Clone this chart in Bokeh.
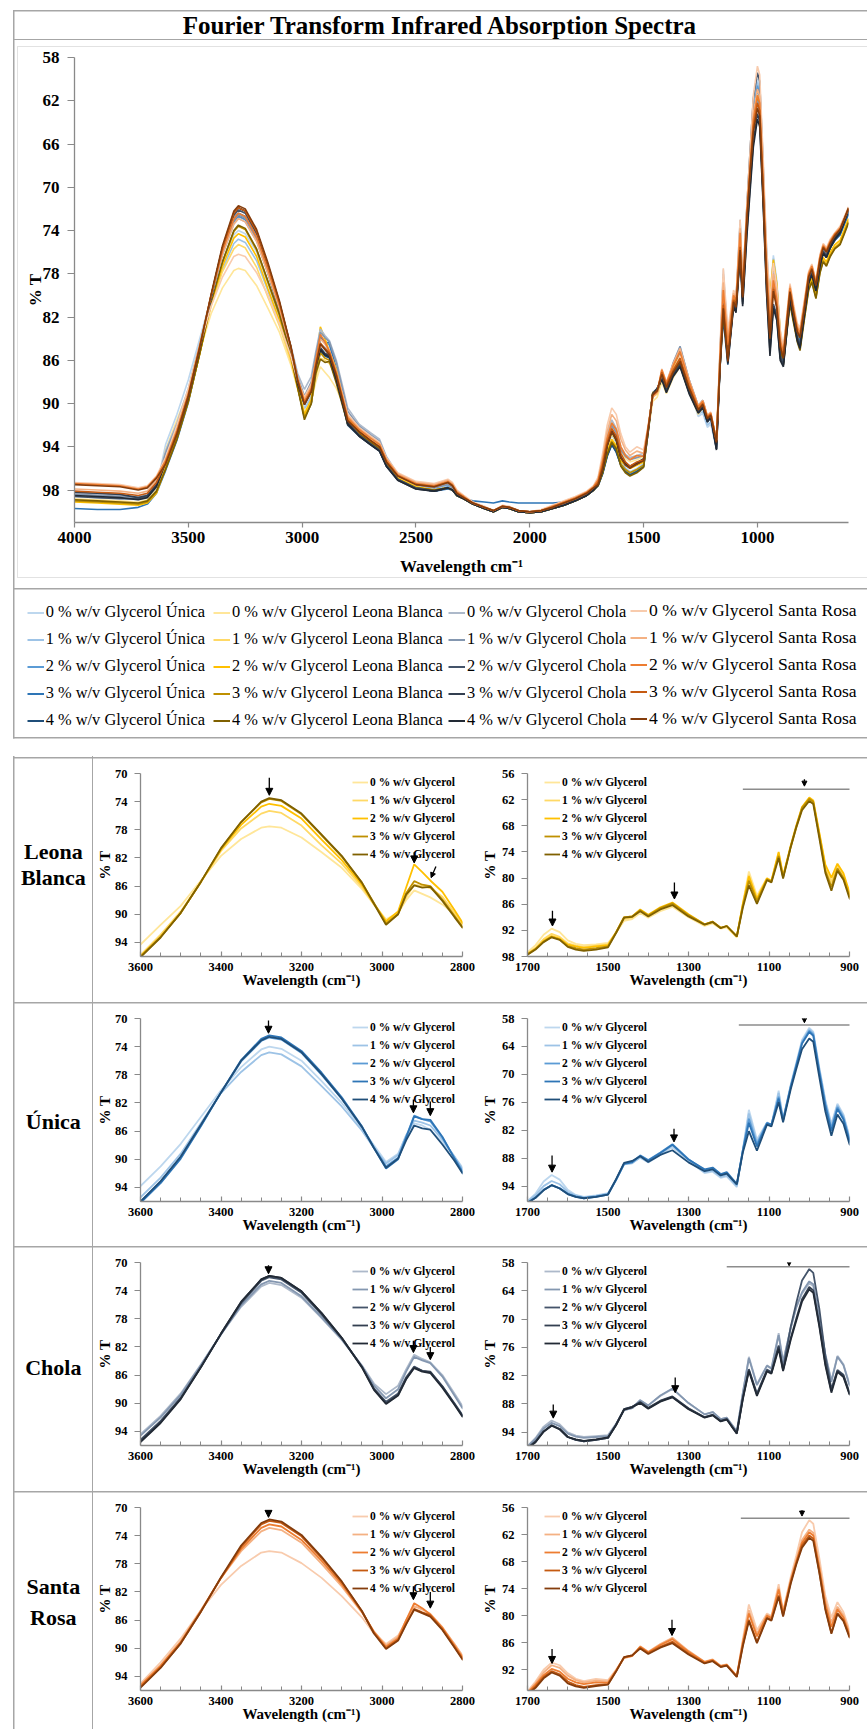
from bokeh.plotting import figure
from bokeh.models import (Range1d, FixedTicker, Legend, LegendItem, Label, Arrow, NormalHead)
from bokeh.layouts import column, row
from bokeh.embed import file_html
from bokeh.resources import INLINE

# ---------------------------------------------------------------- data
WN = [4000, 3900, 3800, 3720, 3680, 3640,
      3600, 3550, 3500, 3450, 3400, 3350, 3300, 3280, 3250, 3200, 3150, 3100, 3050, 3020,
      2990, 2960, 2940, 2920, 2900, 2880, 2850, 2820, 2800,
      2750, 2700, 2660, 2630, 2580, 2500, 2420, 2360, 2340, 2320, 2290, 2250, 2200, 2160,
      2120, 2090, 2050, 2000, 1950, 1900, 1850, 1800, 1750, 1720,
      1700, 1680, 1660, 1640, 1620, 1600, 1580, 1560, 1530, 1500,
      1480, 1460, 1440, 1420, 1400, 1370, 1340, 1300, 1260, 1240,
      1220, 1205, 1180, 1165, 1150, 1130, 1105, 1094, 1076, 1065,
      1046, 1032, 1018, 1000, 990, 975, 960, 945, 930, 915, 900,
      886, 870, 857, 840, 825, 813, 795, 775, 761, 743, 725, 711, 697, 680, 660, 637, 620, 600]

UNICA_0 = [98.6, 98.7, 98.8, 98.9, 98.7, 97.8,
           93.8, 91.0, 87.8, 84.0, 80.2, 76.9, 74.4, 74.0, 74.3, 76.0, 78.9, 82.0, 85.6, 88.0,
           90.4, 89.2, 86.6, 84.9, 85.2, 85.8, 87.6, 89.6, 91.2,
           92.0, 92.8, 93.4, 95.0, 96.6, 97.5, 97.8, 97.5, 97.7, 98.3, 98.7, 99.2, 99.6, 99.9,
           99.5, 99.6, 99.9, 100.0, 99.9, 99.6, 99.3, 98.9, 98.4, 97.9,
           97.2, 95.6, 93.0, 91.6, 92.6, 94.8, 95.9, 96.3, 96.0, 95.5,
           92.6, 89.3, 89.0, 87.9, 88.9, 87.3, 85.6, 88.6, 91.2, 90.9,
           92.2, 91.9, 94.2, 86.2, 77.6, 84.0, 80.3, 80.9, 73.5, 79.6,
           72.2, 67.4, 62.6, 60.0, 60.8, 68.5, 75.5, 80.6, 76.3, 78.6, 83.4,
           85.4, 82.2, 79.5, 81.6, 83.3, 83.8, 81.3, 78.4, 77.6, 79.1, 76.9, 75.8, 76.3, 75.4, 74.8, 74.3, 73.4, 72.4]
UNICA_1 = [98.4, 98.5, 98.6, 98.8, 98.6, 97.6,
           95.4, 92.6, 89.2, 84.9, 80.6, 77.6, 75.2, 74.8, 75.1, 76.8, 79.6, 82.5, 85.9, 88.4,
           90.6, 89.4, 86.6, 84.5, 84.8, 85.2, 87.2, 89.6, 91.4,
           92.1, 92.9, 93.5, 95.1, 96.7, 97.5, 97.8, 97.5, 97.8, 98.4, 98.7, 99.2, 99.6, 99.9,
           99.5, 99.6, 99.9, 100.0, 99.9, 99.6, 99.3, 98.9, 98.4, 97.9,
           97.3, 95.9, 94.0, 92.9, 93.6, 95.2, 96.0, 96.4, 96.1, 95.6,
           92.7, 89.3, 89.1, 87.8, 88.8, 87.1, 85.3, 88.4, 91.0, 90.7,
           92.0, 91.7, 94.0, 86.3, 78.4, 84.5, 80.4, 80.9, 74.0, 79.7,
           72.4, 67.7, 62.9, 60.3, 61.1, 68.8, 75.8, 81.0, 76.6, 78.9, 83.6,
           85.5, 82.3, 79.6, 81.7, 83.4, 83.9, 81.4, 78.5, 77.7, 79.2, 77.0, 75.9, 76.4, 75.5, 74.9, 74.4, 73.5, 72.5]
UNICA_2 = [98.9, 99.0, 99.1, 99.2, 99.0, 98.0,
           96.0, 93.2, 89.7, 85.2, 80.5, 76.1, 73.2, 72.7, 73.0, 74.9, 78.0, 81.4, 85.4, 88.3,
           91.0, 89.8, 86.8, 83.8, 84.3, 84.6, 86.9, 89.8, 91.7,
           92.7, 93.5, 94.1, 95.6, 96.9, 97.7, 98.0, 97.7, 97.9, 98.5, 98.8, 99.3, 99.7, 100.0,
           99.6, 99.7, 100.0, 100.1, 100.0, 99.7, 99.4, 99.0, 98.5, 98.0,
           97.5, 96.4, 94.8, 93.8, 94.4, 95.6, 96.2, 96.5, 96.2, 95.7,
           92.6, 89.1, 88.8, 87.4, 88.4, 86.8, 85.0, 88.2, 90.6, 90.2,
           91.6, 91.2, 93.7, 86.2, 79.5, 85.0, 80.4, 80.8, 74.8, 79.8,
           72.6, 68.0, 63.2, 60.6, 61.4, 69.2, 76.3, 81.6, 77.0, 79.3, 84.0,
           85.6, 82.5, 79.8, 81.8, 83.5, 84.1, 81.5, 78.5, 77.8, 79.3, 77.0, 75.9, 76.4, 75.5, 74.8, 74.3, 73.4, 72.4]
UNICA_3 = [99.7, 99.8, 99.8, 99.6, 99.3, 98.3,
           96.2, 93.4, 89.9, 85.3, 80.5, 75.9, 72.9, 72.4, 72.7, 74.6, 77.7, 81.2, 85.3, 88.4,
           91.3, 90.0, 86.9, 83.9, 84.3, 84.4, 86.8, 89.9, 91.9,
           92.8, 93.6, 94.2, 95.7, 97.0, 97.8, 98.1, 97.9, 98.0, 98.5, 98.8, 99.0, 99.1, 99.2,
           99.0, 99.1, 99.2, 99.2, 99.2, 99.2, 99.1, 98.9, 98.5, 98.0,
           97.6, 96.5, 94.8, 93.8, 94.5, 95.7, 96.3, 96.6, 96.3, 95.8,
           92.7, 89.2, 88.9, 87.5, 88.5, 86.9, 85.1, 88.3, 90.4, 90.0,
           91.4, 91.0, 93.5, 86.4, 80.4, 85.5, 80.5, 80.8, 75.2, 79.9,
           72.7, 68.1, 63.4, 60.9, 61.7, 69.6, 76.8, 82.2, 77.4, 79.7, 84.3,
           85.8, 82.7, 79.9, 81.9, 83.6, 84.2, 81.6, 78.6, 77.9, 79.4, 77.1, 76.0, 76.5, 75.6, 74.9, 74.4, 73.5, 72.5]
UNICA_4 = [98.3, 98.4, 98.5, 98.7, 98.5, 97.5,
           96.0, 93.1, 89.6, 85.1, 80.5, 76.0, 73.1, 72.6, 72.9, 74.8, 77.9, 81.4, 85.4, 88.4,
           91.2, 89.9, 87.3, 85.2, 85.6, 85.8, 87.9, 90.2, 92.0,
           93.0, 93.8, 94.4, 95.8, 97.0, 97.8, 98.1, 97.8, 98.0, 98.5, 98.8, 99.3, 99.7, 100.0,
           99.6, 99.7, 100.0, 100.1, 100.0, 99.7, 99.4, 99.0, 98.5, 98.0,
           97.6, 96.5, 94.9, 93.8, 94.5, 95.7, 96.3, 96.6, 96.3, 95.8,
           92.5, 89.0, 88.6, 87.6, 88.8, 87.3, 86.3, 88.9, 90.8, 90.4,
           91.7, 91.3, 93.6, 86.8, 82.2, 86.4, 80.8, 81.2, 76.0, 80.3,
           73.2, 68.8, 64.6, 62.3, 63.0, 70.6, 78.0, 83.2, 78.6, 80.6, 85.0,
           86.2, 83.0, 80.4, 82.2, 83.9, 84.6, 81.9, 78.8, 78.1, 79.6, 77.2, 76.1, 76.5, 75.6, 74.9, 74.3, 73.4, 72.3]

LEONA_0 = [98.8, 98.9, 99.0, 99.1, 98.9, 98.0,
           94.3, 91.5, 88.8, 85.2, 81.7, 79.3, 77.7, 77.5, 77.7, 79.1, 81.2, 83.4, 86.4, 88.6,
           90.7, 89.8, 88.0, 86.6, 87.1, 87.6, 88.6, 90.0, 91.2,
           92.4, 93.3, 93.9, 95.3, 96.8, 97.7, 98.0, 97.8, 97.9, 98.5, 98.8, 99.3, 99.7, 100.0,
           99.6, 99.7, 100.0, 100.1, 100.0, 99.7, 99.4, 99.0, 98.5, 97.9,
           97.0, 95.4, 93.0, 91.6, 92.4, 94.3, 95.1, 95.4, 95.2, 94.9,
           92.6, 89.8, 89.4, 88.0, 89.1, 87.6, 86.6, 89.0, 91.0, 90.4,
           91.6, 91.3, 93.6, 85.8, 78.5, 84.0, 80.0, 80.6, 74.2, 79.6,
           72.8, 68.3, 64.0, 61.8, 62.5, 69.8, 77.4, 80.5, 77.6, 79.6, 83.8,
           86.0, 82.9, 80.4, 82.3, 83.9, 84.7, 82.0, 79.2, 78.5, 80.0, 77.6, 76.6, 77.0, 76.1, 75.4, 75.0, 74.1, 73.0]
LEONA_1 = [98.9, 99.0, 99.1, 99.2, 99.0, 98.1,
           95.8, 92.9, 89.6, 85.4, 81.0, 77.8, 75.7, 75.3, 75.6, 77.4, 80.2, 82.8, 86.1, 88.6,
           91.0, 89.9, 87.6, 85.8, 86.0, 86.3, 87.5, 89.8, 91.4,
           92.6, 93.5, 94.1, 95.5, 96.9, 97.7, 98.0, 97.8, 98.0, 98.5, 98.8, 99.3, 99.7, 100.0,
           99.6, 99.7, 100.0, 100.1, 100.0, 99.7, 99.4, 99.0, 98.5, 98.0,
           97.3, 96.0, 94.0, 92.8, 93.5, 95.0, 95.5, 95.8, 95.5, 95.2,
           92.5, 89.4, 89.1, 87.4, 88.7, 87.0, 86.0, 88.6, 90.8, 90.2,
           91.5, 91.1, 93.5, 86.0, 79.3, 84.6, 80.1, 80.7, 74.5, 79.7,
           72.9, 68.4, 64.2, 62.0, 62.7, 70.0, 77.6, 81.0, 77.2, 79.4, 83.7,
           86.1, 83.0, 80.5, 82.4, 84.0, 84.8, 82.1, 79.3, 78.6, 80.1, 77.7, 76.7, 77.1, 76.2, 75.5, 75.1, 74.2, 73.1]
LEONA_2 = [99.1, 99.2, 99.3, 99.4, 99.2, 98.3,
           96.0, 93.2, 89.8, 85.4, 80.8, 77.3, 74.7, 74.3, 74.6, 76.4, 79.4, 82.3, 85.8, 88.5,
           91.0, 89.6, 86.2, 82.9, 84.0, 85.2, 86.8, 89.4, 91.2,
           92.6, 93.5, 94.1, 95.5, 96.9, 97.7, 98.0, 97.8, 98.0, 98.5, 98.8, 99.3, 99.7, 100.0,
           99.6, 99.7, 100.0, 100.1, 100.0, 99.7, 99.4, 99.0, 98.5, 98.0,
           97.4, 96.2, 94.4, 93.3, 93.9, 95.3, 95.7, 96.0, 95.7, 95.4,
           92.4, 89.0, 88.8, 87.2, 88.4, 86.7, 85.6, 88.3, 90.6, 90.0,
           91.4, 91.0, 93.4, 86.0, 79.6, 84.8, 80.1, 80.6, 74.0, 79.5,
           72.5, 67.9, 63.7, 61.5, 62.2, 69.6, 76.9, 79.9, 76.7, 78.9, 83.3,
           85.9, 82.8, 80.3, 82.2, 83.8, 84.6, 81.9, 79.1, 78.4, 79.9, 77.5, 76.5, 76.9, 76.0, 75.3, 74.9, 74.0, 72.9]
LEONA_3 = [99.0, 99.1, 99.2, 99.3, 99.1, 98.2,
           96.0, 93.2, 89.8, 85.4, 80.7, 76.9, 74.1, 73.6, 73.9, 75.8, 78.8, 81.8, 85.5, 88.4,
           91.3, 90.0, 87.0, 85.3, 85.8, 86.0, 87.9, 90.2, 91.8,
           92.8, 93.6, 94.2, 95.6, 97.0, 97.8, 98.0, 97.8, 98.0, 98.5, 98.8, 99.3, 99.7, 100.0,
           99.6, 99.7, 100.0, 100.1, 100.0, 99.7, 99.4, 99.0, 98.5, 98.0,
           97.5, 96.3, 94.6, 93.5, 94.1, 95.6, 96.1, 96.4, 96.1, 95.7,
           92.5, 89.0, 88.8, 87.4, 88.6, 86.9, 85.8, 88.5, 90.6, 90.0,
           91.4, 91.0, 93.4, 86.4, 80.6, 85.3, 80.3, 80.8, 74.9, 79.8,
           72.7, 68.1, 63.9, 61.8, 62.5, 70.2, 78.3, 82.0, 77.8, 80.0, 84.2,
           86.2, 83.1, 80.6, 82.5, 84.1, 84.9, 82.2, 79.4, 78.7, 80.2, 77.8, 76.8, 77.2, 76.3, 75.6, 75.2, 74.3, 73.2]
LEONA_4 = [98.9, 99.0, 99.1, 99.2, 99.0, 98.1,
           96.1, 93.3, 89.8, 85.4, 80.6, 76.9, 74.0, 73.5, 73.8, 75.7, 78.7, 81.7, 85.5, 88.5,
           91.5, 90.0, 87.2, 85.9, 86.2, 86.1, 88.1, 90.4, 91.9,
           92.8, 93.6, 94.2, 95.6, 97.0, 97.8, 98.0, 97.8, 98.0, 98.5, 98.8, 99.3, 99.7, 100.0,
           99.6, 99.7, 100.0, 100.1, 100.0, 99.7, 99.4, 99.0, 98.5, 98.0,
           97.6, 96.4, 94.7, 93.6, 94.2, 95.8, 96.4, 96.7, 96.4, 95.9,
           92.6, 89.1, 88.9, 87.6, 88.8, 87.2, 86.2, 88.8, 90.7, 90.1,
           91.5, 91.0, 93.4, 86.8, 81.7, 85.9, 80.5, 81.0, 75.4, 80.1,
           72.9, 68.3, 64.4, 62.3, 63.0, 70.8, 78.8, 82.9, 78.3, 80.4, 84.6,
           86.4, 83.3, 80.8, 82.7, 84.3, 85.1, 82.4, 79.5, 78.8, 80.3, 77.9, 76.9, 77.3, 76.4, 75.7, 75.3, 74.4, 73.3]

CHOLA_0 = [98.3, 98.4, 98.5, 98.6, 98.4, 97.4,
           94.4, 91.8, 88.6, 84.5, 80.2, 76.3, 73.4, 72.9, 73.2, 75.0, 77.9, 81.0, 84.6, 87.2,
           88.7, 87.5, 85.2, 83.1, 83.7, 84.2, 86.0, 88.6, 90.4,
           91.9, 92.7, 93.3, 94.9, 96.5, 97.4, 97.7, 97.4, 97.7, 98.3, 98.7, 99.2, 99.6, 99.9,
           99.5, 99.6, 99.9, 100.0, 99.9, 99.6, 99.3, 98.9, 98.4, 97.9,
           96.9, 95.2, 92.8, 91.5, 92.3, 94.0, 94.7, 95.0, 94.8, 94.6,
           92.2, 89.3, 88.9, 87.2, 88.3, 86.3, 84.8, 87.8, 90.2, 89.7,
           91.2, 90.9, 93.8, 85.6, 78.0, 83.8, 79.8, 80.4, 73.0, 79.0,
           71.8, 67.5, 64.6, 62.4, 63.0, 70.0, 77.4, 83.0, 77.8, 79.6, 83.8,
           85.2, 82.0, 79.3, 81.4, 83.1, 83.6, 81.1, 78.2, 77.5, 79.0, 76.8, 75.6, 76.1, 75.2, 74.5, 74.0, 73.1, 72.0]
CHOLA_1 = [98.4, 98.5, 98.6, 98.7, 98.5, 97.5,
           94.6, 92.0, 88.8, 84.6, 80.2, 76.1, 73.1, 72.6, 72.9, 74.8, 77.8, 80.9, 84.7, 87.5,
           89.3, 88.0, 85.5, 83.4, 83.9, 84.3, 86.2, 88.9, 90.7,
           92.1, 92.9, 93.5, 95.0, 96.6, 97.5, 97.8, 97.5, 97.8, 98.4, 98.7, 99.2, 99.6, 99.9,
           99.5, 99.6, 99.9, 100.0, 99.9, 99.6, 99.3, 98.9, 98.4, 97.9,
           97.0, 95.4, 93.2, 92.0, 92.7, 94.3, 94.9, 95.2, 95.0, 94.8,
           92.3, 89.3, 88.9, 87.2, 88.3, 86.2, 84.7, 87.8, 90.2, 89.7,
           91.2, 90.9, 93.8, 85.7, 78.3, 84.0, 79.9, 80.5, 73.4, 79.2,
           71.9, 67.4, 64.3, 62.0, 62.6, 69.8, 77.6, 83.3, 78.0, 79.8, 84.0,
           85.3, 82.1, 79.4, 81.5, 83.2, 83.7, 81.2, 78.3, 77.6, 79.1, 76.9, 75.7, 76.2, 75.3, 74.6, 74.1, 73.2, 72.1]
CHOLA_2 = [98.6, 98.7, 98.8, 98.8, 98.6, 97.6,
           95.2, 92.5, 89.2, 84.8, 80.2, 75.8, 72.6, 72.1, 72.4, 74.3, 77.4, 80.8, 84.8, 87.9,
           89.8, 88.6, 86.3, 84.8, 85.4, 85.6, 87.6, 90.0, 91.7,
           92.9, 93.7, 94.3, 95.7, 97.0, 97.8, 98.1, 97.8, 98.0, 98.5, 98.8, 99.3, 99.7, 100.0,
           99.6, 99.7, 100.0, 100.1, 100.0, 99.7, 99.4, 99.0, 98.5, 98.0,
           97.3, 95.9, 93.8, 92.5, 93.3, 95.0, 95.6, 95.9, 95.6, 95.2,
           92.4, 89.1, 88.6, 87.7, 88.9, 87.4, 86.5, 89.0, 90.8, 90.3,
           91.6, 91.2, 94.2, 86.6, 80.6, 85.8, 80.7, 81.2, 75.6, 80.6,
           71.6, 66.5, 61.8, 59.4, 60.2, 67.8, 77.8, 84.8, 80.8, 81.8, 85.6,
           86.2, 82.8, 80.0, 82.0, 83.8, 84.5, 81.7, 78.6, 77.9, 79.4, 77.1, 75.9, 76.3, 75.4, 74.7, 74.1, 73.2, 72.0]
CHOLA_3 = [98.2, 98.3, 98.4, 98.7, 98.5, 97.5,
           95.4, 92.7, 89.3, 84.9, 80.1, 75.6, 72.4, 71.9, 72.2, 74.1, 77.2, 80.7, 84.8, 88.0,
           90.0, 88.8, 86.5, 84.9, 85.4, 85.5, 87.6, 90.1, 91.8,
           93.0, 93.8, 94.4, 95.8, 97.1, 97.9, 98.1, 97.8, 98.0, 98.5, 98.8, 99.3, 99.7, 100.0,
           99.6, 99.7, 100.0, 100.1, 100.0, 99.7, 99.4, 99.0, 98.5, 98.0,
           97.4, 96.0, 93.8, 92.5, 93.3, 95.0, 95.6, 95.9, 95.6, 95.2,
           92.4, 89.1, 88.6, 87.6, 88.8, 87.3, 86.4, 88.9, 90.8, 90.3,
           91.6, 91.2, 94.2, 86.8, 80.8, 86.0, 80.9, 81.4, 75.8, 80.8,
           74.0, 69.8, 65.8, 63.2, 63.9, 71.2, 79.4, 85.2, 81.0, 82.0, 85.8,
           86.4, 83.0, 80.2, 82.2, 84.0, 84.7, 81.9, 78.8, 78.0, 79.5, 77.2, 76.0, 76.4, 75.5, 74.7, 74.1, 73.2, 72.0]
CHOLA_4 = [98.5, 98.6, 98.7, 98.9, 98.7, 97.7,
           95.5, 92.8, 89.4, 84.9, 80.1, 75.6, 72.4, 71.9, 72.2, 74.1, 77.2, 80.7, 84.9, 88.1,
           90.1, 88.9, 86.6, 85.0, 85.5, 85.7, 87.8, 90.2, 91.9,
           93.0, 93.8, 94.4, 95.8, 97.1, 97.9, 98.1, 97.8, 98.0, 98.5, 98.8, 99.3, 99.7, 100.0,
           99.6, 99.7, 100.0, 100.1, 100.0, 99.7, 99.4, 99.0, 98.5, 98.0,
           97.5, 96.1, 93.9, 92.6, 93.4, 95.0, 95.5, 95.8, 95.5, 95.1,
           92.5, 89.2, 88.7, 87.8, 89.0, 87.5, 86.6, 89.1, 90.9, 90.4,
           91.7, 91.3, 94.3, 87.0, 81.0, 86.3, 81.1, 81.6, 76.3, 81.0,
           74.4, 70.3, 66.3, 63.7, 64.4, 71.6, 79.8, 85.6, 81.2, 82.3, 86.0,
           86.6, 83.2, 80.4, 82.4, 84.2, 84.9, 82.0, 78.9, 78.1, 79.6, 77.3, 76.1, 76.5, 75.6, 74.8, 74.2, 73.3, 72.1]

SANTA_0 = [97.3, 97.4, 97.5, 97.8, 97.6, 96.7,
           95.0, 92.0, 88.6, 84.6, 81.0, 78.3, 76.4, 76.2, 76.4, 77.9, 80.0, 82.6, 85.6, 87.9,
           89.4, 88.2, 86.2, 84.6, 85.0, 85.4, 87.2, 89.4, 91.0,
           92.2, 93.0, 93.6, 95.0, 96.4, 97.2, 97.4, 97.0, 97.3, 98.0, 98.5, 99.1, 99.5, 99.9,
           99.4, 99.5, 99.9, 100.0, 99.8, 99.4, 99.0, 98.6, 98.1, 97.6,
           96.8, 94.6, 92.0, 90.4, 91.0, 92.8, 94.0, 94.5, 94.0, 94.3,
           92.0, 89.3, 88.9, 87.2, 88.3, 86.9, 85.6, 88.2, 90.4, 89.8,
           91.2, 90.9, 93.4, 85.2, 77.5, 83.2, 79.5, 80.1, 73.0, 79.0,
           71.4, 66.6, 61.5, 58.8, 59.6, 67.2, 75.6, 80.4, 77.0, 79.2, 83.2,
           84.8, 81.6, 78.9, 81.0, 82.6, 83.0, 80.6, 77.8, 77.1, 78.6, 76.2, 75.2, 75.6, 74.8, 74.2, 73.6, 72.8, 71.8]
SANTA_1 = [97.9, 98.0, 98.1, 98.3, 98.1, 97.1,
           95.2, 92.4, 89.0, 84.6, 80.0, 76.2, 73.4, 72.9, 73.2, 75.0, 78.0, 81.2, 84.9, 87.6,
           89.6, 88.4, 86.0, 84.0, 84.5, 85.1, 87.0, 89.4, 91.1,
           92.3, 93.1, 93.7, 95.1, 96.5, 97.3, 97.5, 97.1, 97.4, 98.1, 98.6, 99.2, 99.6, 99.9,
           99.5, 99.6, 99.9, 100.0, 99.9, 99.5, 99.1, 98.7, 98.2, 97.7,
           97.0, 95.0, 92.6, 91.0, 91.6, 93.3, 94.3, 94.8, 94.4, 94.6,
           92.1, 89.4, 89.0, 86.8, 88.0, 86.3, 84.9, 87.8, 90.2, 89.7,
           91.1, 90.8, 93.4, 85.7, 78.8, 84.0, 79.8, 80.3, 73.8, 79.2,
           72.0, 67.6, 63.2, 60.9, 61.6, 68.8, 76.6, 81.5, 78.0, 79.9, 83.8,
           85.0, 81.8, 79.1, 81.2, 82.8, 83.3, 80.8, 77.9, 77.2, 78.7, 76.3, 75.3, 75.7, 74.9, 74.3, 73.7, 72.9, 71.9]
SANTA_2 = [97.4, 97.5, 97.6, 97.9, 97.7, 96.8,
           95.3, 92.5, 89.1, 84.7, 80.0, 75.9, 72.9, 72.4, 72.7, 74.6, 77.6, 80.9, 84.8, 87.7,
           89.8, 88.6, 86.0, 83.6, 84.3, 85.2, 87.1, 89.6, 91.3,
           92.4, 93.2, 93.8, 95.2, 96.6, 97.4, 97.6, 97.2, 97.5, 98.2, 98.6, 99.2, 99.6, 99.9,
           99.5, 99.6, 99.9, 100.0, 99.9, 99.5, 99.1, 98.7, 98.2, 97.7,
           97.1, 95.3, 93.2, 91.8, 92.4, 94.0, 94.8, 95.2, 94.8, 94.9,
           92.2, 89.3, 88.9, 86.9, 88.1, 86.5, 85.2, 88.0, 90.3, 89.8,
           91.2, 90.9, 93.4, 86.0, 79.5, 84.6, 80.0, 80.5, 74.2, 79.4,
           72.3, 67.9, 63.8, 61.5, 62.2, 69.4, 77.4, 82.5, 78.6, 80.4, 84.2,
           85.2, 82.0, 79.3, 81.4, 83.0, 83.5, 81.0, 78.0, 77.3, 78.8, 76.4, 75.4, 75.8, 75.0, 74.3, 73.8, 73.0, 72.0]
SANTA_3 = [98.1, 98.2, 98.3, 98.5, 98.3, 97.3,
           95.5, 92.7, 89.3, 84.8, 80.0, 75.6, 72.4, 71.9, 72.2, 74.1, 77.2, 80.6, 84.7, 87.8,
           90.0, 88.8, 86.5, 84.4, 84.9, 85.3, 87.3, 89.8, 91.5,
           92.6, 93.4, 94.0, 95.4, 96.7, 97.5, 97.7, 97.3, 97.6, 98.3, 98.7, 99.2, 99.6, 99.9,
           99.5, 99.6, 99.9, 100.0, 99.9, 99.6, 99.2, 98.8, 98.3, 97.8,
           97.3, 95.7, 93.6, 92.3, 93.0, 94.6, 95.4, 95.8, 95.4, 95.2,
           92.3, 89.2, 88.8, 87.1, 88.3, 86.9, 85.8, 88.4, 90.5, 90.0,
           91.3, 91.0, 93.5, 86.5, 80.9, 85.8, 80.4, 80.9, 75.5, 80.0,
           72.6, 68.3, 64.4, 62.2, 62.9, 70.2, 78.4, 83.8, 79.4, 81.0, 84.6,
           85.6, 82.3, 79.6, 81.7, 83.3, 83.8, 81.3, 78.2, 77.5, 79.0, 76.6, 75.5, 75.9, 75.1, 74.4, 73.9, 73.0, 72.0]
SANTA_4 = [97.5, 97.6, 97.7, 98.0, 97.8, 96.9,
           95.6, 92.8, 89.3, 84.8, 79.9, 75.4, 72.2, 71.7, 72.0, 73.9, 77.0, 80.5, 84.7, 87.9,
           90.1, 88.9, 86.6, 84.5, 85.0, 85.5, 87.4, 89.9, 91.6,
           92.6, 93.4, 94.0, 95.4, 96.7, 97.5, 97.7, 97.3, 97.6, 98.3, 98.7, 99.2, 99.6, 99.9,
           99.5, 99.6, 99.9, 100.0, 99.9, 99.6, 99.2, 98.8, 98.3, 97.8,
           97.5, 96.0, 93.9, 92.6, 93.3, 95.0, 95.7, 96.0, 95.6, 95.3,
           92.4, 89.2, 88.8, 87.3, 88.5, 87.1, 86.1, 88.6, 90.6, 90.1,
           91.4, 91.1, 93.6, 86.8, 81.2, 86.1, 80.6, 81.1, 75.8, 80.2,
           72.9, 68.6, 64.9, 62.7, 63.4, 70.5, 78.7, 84.0, 79.6, 81.2, 84.8,
           85.8, 82.4, 79.7, 81.8, 83.4, 83.9, 81.4, 78.3, 77.6, 79.1, 76.7, 75.6, 76.0, 75.2, 74.5, 73.9, 73.0, 71.9]

CULTIVARS = ["Única", "Leona Blanca", "Chola", "Santa Rosa"]
SERIES = {
    "Única": [UNICA_0, UNICA_1, UNICA_2, UNICA_3, UNICA_4],
    "Leona Blanca": [LEONA_0, LEONA_1, LEONA_2, LEONA_3, LEONA_4],
    "Chola": [CHOLA_0, CHOLA_1, CHOLA_2, CHOLA_3, CHOLA_4],
    "Santa Rosa": [SANTA_0, SANTA_1, SANTA_2, SANTA_3, SANTA_4],
}
GLYCEROL_LEVELS = ["0 % w/v Glycerol", "1 % w/v Glycerol", "2 % w/v Glycerol",
                   "3 % w/v Glycerol", "4 % w/v Glycerol"]
TITLE = "Fourier Transform Infrared Absorption Spectra"

MAIN_X_TICKS = [4000, 3500, 3000, 2500, 2000, 1500, 1000]
MAIN_Y_TICKS = [58, 62, 66, 70, 74, 78, 82, 86, 90, 94, 98]
LEFT_X_TICKS = [3600, 3400, 3200, 3000, 2800]
LEFT_X_MINOR = [3550, 3500, 3450, 3350, 3300, 3250, 3150, 3100, 3050, 2950, 2900, 2850]
LEFT_Y_TICKS = [70, 74, 78, 82, 86, 90, 94]
RIGHT_X_TICKS = [1700, 1500, 1300, 1100, 900]
RIGHT_X_MINOR = [1650, 1600, 1550, 1450, 1400, 1350, 1250, 1200, 1150, 1050, 1000, 950]
RIGHT_Y_TICKS = {
    "Leona Blanca": [56, 62, 68, 74, 80, 86, 92, 98],
    "Única": [58, 64, 70, 76, 82, 88, 94],
    "Chola": [58, 64, 70, 76, 82, 88, 94],
    "Santa Rosa": [56, 62, 68, 74, 80, 86, 92],
}
RIGHT_Y_LIMITS = {"Leona Blanca": (98, 56), "Única": (97.3, 58), "Chola": (96.8, 58), "Santa Rosa": (96.6, 56)}

# arrows marking bands: (x_start, y_start, x_end, y_end) in data units
ARROWS_LEFT = {
    "Leona Blanca": [(3280, 70.6, 3280, 73.1), (2920, 81.2, 2920, 82.7), (2866, 83.2, 2878, 84.8)],
    "Única": [(3282, 70.3, 3282, 72.1), (2922, 81.5, 2922, 83.4), (2880, 81.8, 2880, 83.8)],
    "Chola": [(3282, 70.4, 3282, 71.6), (2922, 81.1, 2922, 82.8), (2880, 82.0, 2880, 83.8)],
    "Santa Rosa": [(3282, 70.4, 3282, 71.4), (2922, 81.2, 2922, 83.1), (2880, 82.0, 2880, 84.3)],
}
ARROWS_RIGHT = {
    "Leona Blanca": [(1638, 87.5, 1638, 91.0), (1335, 81.0, 1335, 84.8), (1012, 57.3, 1012, 58.9)],
    "Única": [(1639, 87.4, 1639, 91.0), (1336, 81.7, 1336, 84.5), (1012, 58.0, 1012, 58.9)],
    "Chola": [(1636, 88.1, 1636, 91.0), (1333, 82.4, 1333, 85.6), (1050, 58.0, 1050, 58.7)],
    "Santa Rosa": [(1639, 87.4, 1639, 90.6), (1341, 80.9, 1341, 84.4), (1018, 56.6, 1018, 57.9)],
}
# gray bracket line over the 1000 cm-1 band: (x_from, x_to, y)
BAND_LINES = {"Leona Blanca": (1165, 891, 59.6), "Única": (1175, 898, 59.4),
              "Chola": (1205, 895, 58.9), "Santa Rosa": (1170, 896, 58.4)}

# ---------------------------------------------------------------- style
SERIF = "Liberation Serif"
LINE_GRAY = "#a6a6a6"
LIGHT_GRAY = "#e2e2e2"
AXIS_GRAY = "#898989"
COLORS = {
    "Única": ["#BDD7EE", "#9DC3E6", "#5B9BD5", "#2E75B6", "#1F4E79"],
    "Leona Blanca": ["#FFE699", "#FFD966", "#FFC000", "#BF9000", "#7F6000"],
    "Chola": ["#ADB9CA", "#8497B0", "#44546A", "#333F50", "#222A35"],
    "Santa Rosa": ["#F8CBAD", "#F4B183", "#ED7D31", "#C55A11", "#843C0C"],
}


def rules_css(lines):
    """CSS background that paints thin table rules: (x, y, w, h, color) in px."""
    parts = [f"linear-gradient({c},{c}) {x}px {y}px / {w}px {h}px no-repeat" for x, y, w, h, c in lines]
    return {"background": ", ".join(parts)}


def blank_fig(w, h, lines):
    p = figure(width=w, height=h, x_range=Range1d(0, w), y_range=Range1d(0, h),
               x_axis_type=None, y_axis_type=None, output_backend="svg",
               toolbar_location=None, min_border=0, styles=rules_css(lines))
    p.outline_line_color = None
    p.border_fill_alpha = 0.0
    p.background_fill_alpha = 0.0
    return p


def style_axes(p, tick_fs, label_fs):
    p.xgrid.visible = False
    p.ygrid.visible = False
    p.outline_line_color = None
    p.border_fill_alpha = 0.0
    for ax in p.axis:
        ax.axis_line_color = AXIS_GRAY
        ax.axis_line_width = 1.3
        ax.major_tick_line_color = AXIS_GRAY
        ax.major_tick_line_width = 1.2
        ax.minor_tick_line_color = AXIS_GRAY
        ax.major_label_text_font = SERIF
        ax.major_label_text_font_style = "bold"
        ax.major_label_text_font_size = tick_fs
        ax.major_label_text_color = "#000000"
        ax.axis_label_text_font = SERIF
        ax.axis_label_text_font_style = "bold"
        ax.axis_label_text_font_size = label_fs
        ax.axis_label_text_color = "#000000"


# ---------------------------------------------------------------- title block
title_fig = blank_fig(867, 40, [(12.6, 10, 1.5, 2000, LINE_GRAY),
                                (12.6, 10, 2000, 1.5, LINE_GRAY),
                                (12.6, 38.5, 2000, 1.5, LINE_GRAY)])
title_fig.add_layout(Label(x=440, y=24.7, x_units="canvas", y_units="canvas", text=TITLE,
                           text_align="center", text_baseline="middle", text_font=SERIF,
                           text_font_style="bold", text_font_size="25px", text_color="#000000"))

# ---------------------------------------------------------------- main chart
main = figure(width=867, height=548, x_range=Range1d(4000, 600), y_range=Range1d(101, 58),
              output_backend="svg", toolbar_location=None,
              min_border_left=74, min_border_right=19, min_border_top=17, min_border_bottom=66,
              styles=rules_css([(12.6, 0, 1.5, 2000, LINE_GRAY),
                                (16.5, 6.2, 1, 531, LIGHT_GRAY),
                                (16.5, 6.2, 2000, 1, LIGHT_GRAY),
                                (16.5, 536.5, 2000, 1, LIGHT_GRAY)]))
for cult in CULTIVARS:
    for i, ys in enumerate(SERIES[cult]):
        main.line(WN, ys, line_color=COLORS[cult][i], line_width=1.6)

style_axes(main, "17px", "17px")
main.xaxis.ticker = FixedTicker(ticks=MAIN_X_TICKS)
main.yaxis.ticker = FixedTicker(ticks=MAIN_Y_TICKS)
for ax in main.axis:
    ax.minor_tick_line_color = None
main.xaxis.major_tick_out = 5
main.xaxis.major_tick_in = 0
main.xaxis.major_label_standoff = 4
main.xaxis.axis_label = "Wavelength cm⁻¹"
main.xaxis.axis_label_standoff = 11
main.yaxis.major_tick_out = 7
main.yaxis.major_tick_in = 0
main.yaxis.major_label_standoff = 8
main.yaxis.axis_label = "% T"
main.yaxis.axis_label_standoff = -5

# ---------------------------------------------------------------- main legend block
LEG_H = 168
legend_fig = blank_fig(867, LEG_H, [(12.6, 0, 1.5, 150.5, LINE_GRAY),
                                    (12.6, 0, 2000, 1.5, LINE_GRAY),
                                    (12.6, 149, 2000, 1.5, LINE_GRAY)])
swatch = {}
for cult in CULTIVARS:
    for i, ys in enumerate(SERIES[cult]):
        swatch[(cult, i)] = legend_fig.line(WN, ys, line_color=COLORS[cult][i], line_width=2,
                                            visible=False)

LEGEND_COLS = [("Única", 26.7, "16.4px", 13.5),
               ("Leona Blanca", 213, "16.4px", 13.5),
               ("Chola", 448, "16.4px", 13.5),
               ("Santa Rosa", 630, "17.6px", 11.5)]
for cult, x0, fs, top in LEGEND_COLS:
    items = [LegendItem(label=f"{GLYCEROL_LEVELS[i]} {cult}", renderers=[swatch[(cult, i)]])
             for i in range(5)]
    total_h = 5 * 21 + 4 * 6
    leg = Legend(items=items, location=(x0, LEG_H - top - total_h), orientation="vertical",
                 padding=0, margin=0, spacing=6, glyph_width=17, glyph_height=21,
                 label_height=21, label_standoff=2, label_text_font=SERIF,
                 label_text_font_size=fs, label_text_color="#000000",
                 border_line_color=None, background_fill_alpha=0.0)
    legend_fig.add_layout(leg, "center")

# ---------------------------------------------------------------- table rows
ROW_ORDER = ["Leona Blanca", "Única", "Chola", "Santa Rosa"]
ROW_HEIGHTS = [245, 244, 245, 239]
FRAME_H = 183
ROW_LABELS = {"Leona Blanca": [("Leona", 94.5), ("Blanca", 121.3)],
              "Única": [("Única", 120.0)],
              "Chola": [("Chola", 122.0)],
              "Santa Rosa": [("Santa", 96.0), ("Rosa", 127.0)]}


def label_cell(cult, h):
    p = blank_fig(93, h, [(12.6, 0, 1.5, 2000, LINE_GRAY),
                          (91.5, 0, 1.5, 2000, LINE_GRAY),
                          (12.6, 0.5, 2000, 1.5, LINE_GRAY)])
    for txt, y in ROW_LABELS[cult]:
        p.add_layout(Label(x=52.8, y=y, x_units="canvas", y_units="canvas", text=txt,
                           text_align="center", text_baseline="middle", text_font=SERIF,
                           text_font_style="bold", text_font_size="22px", text_color="#000000"))
    return p


def spectra_cell(cult, side, h):
    if side == "left":
        w, mbl, mbr = 385, 42, 16
        xr, yr = Range1d(3600, 2800), Range1d(96, 70)
        xt, xm, yt = LEFT_X_TICKS, LEFT_X_MINOR, LEFT_Y_TICKS
        leg_x = 212
        arrows = ARROWS_LEFT[cult]
    else:
        w, mbl, mbr = 389, 43, 18
        lo, hi = RIGHT_Y_LIMITS[cult]
        xr, yr = Range1d(1700, 900), Range1d(lo, hi)
        xt, xm, yt = RIGHT_X_TICKS, RIGHT_X_MINOR, RIGHT_Y_TICKS[cult]
        leg_x = 17
        arrows = ARROWS_RIGHT[cult]
    p = figure(width=w, height=h, x_range=xr, y_range=yr, output_backend="svg",
               toolbar_location=None, min_border_left=mbl, min_border_right=mbr,
               min_border_top=17, min_border_bottom=h - 17 - FRAME_H,
               styles=rules_css([(0, 0.5, 2000, 1.5, LINE_GRAY)]))
    rends = []
    for i, ys in enumerate(SERIES[cult]):
        rends.append(p.line(WN, ys, line_color=COLORS[cult][i], line_width=1.8))
    style_axes(p, "12.5px", "15px")
    p.xaxis.ticker = FixedTicker(ticks=xt, minor_ticks=xm)
    p.yaxis.ticker = FixedTicker(ticks=yt)
    p.xaxis.major_tick_in = 5
    p.xaxis.major_tick_out = 0
    p.xaxis.minor_tick_in = 4
    p.xaxis.minor_tick_out = 0
    p.xaxis.major_label_standoff = 6
    p.xaxis.axis_label = "Wavelength (cm⁻¹)"
    p.xaxis.axis_label_standoff = -2
    p.yaxis.major_tick_out = 6
    p.yaxis.major_tick_in = 0
    p.yaxis.minor_tick_line_color = None
    p.yaxis.major_label_standoff = 7
    p.yaxis.axis_label = "% T"
    p.yaxis.axis_label_standoff = -1 if side == "left" else 1

    if side == "right":
        x0, x1, yb = BAND_LINES[cult]
        p.segment(x0=[x0], y0=[yb], x1=[x1], y1=[yb], line_color="#8c8c8c", line_width=1.5)
    for xs, ys_, xe, ye in arrows:
        small = (side == "right" and ye < 62) or abs(xe - xs) > 0
        p.add_layout(Arrow(x_start=xs, y_start=ys_, x_end=xe, y_end=ye, line_color="#000000",
                           line_width=1.3,
                           end=NormalHead(size=5 if small else 7, fill_color="#000000",
                                          line_color="#000000")))

    items = [LegendItem(label=GLYCEROL_LEVELS[i], renderers=[rends[i]]) for i in range(5)]
    leg_h = 5 * 14 + 4 * 4
    leg = Legend(items=items, location=(leg_x, FRAME_H - 2 - leg_h),
                 orientation="vertical", padding=0, margin=0, spacing=4, glyph_width=16,
                 glyph_height=14, label_height=14, label_standoff=2, label_text_font=SERIF,
                 label_text_font_style="bold", label_text_font_size="11.5px",
                 label_text_color="#000000", border_line_color=None, background_fill_alpha=0.0)
    p.add_layout(leg, "center")
    return p


rows = []
for k, cult in enumerate(ROW_ORDER):
    h = ROW_HEIGHTS[k]
    rows.append(row(label_cell(cult, h), spectra_cell(cult, "left", h),
                    spectra_cell(cult, "right", h)))

layout = column(row(title_fig), main, row(legend_fig), *rows)
open("out.html", "w").write(file_html(layout, INLINE))
